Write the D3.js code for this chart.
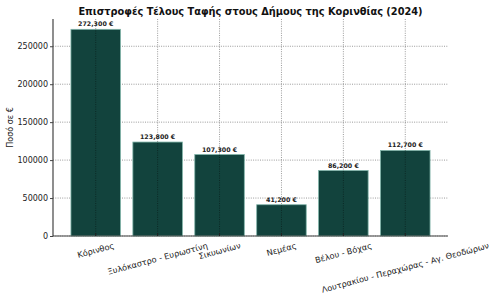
<!DOCTYPE html>
<html>
<head>
<meta charset="UTF-8">
<script src="https://d3js.org/d3.v7.min.js"></script>
<style>
  body { margin: 0; background: #fff; }
  svg { display: block; }
  text { font-family: "DejaVu Sans", sans-serif; }
</style>
</head>
<body>
<svg id="chart" width="500" height="300"></svg>
<script>
// data
const municipalities = ['Κόρινθος', 'Ξυλόκαστρο - Ευρωστίνη', 'Σικυωνίων', 'Νεμέας', 'Βέλου - Βόχας', 'Λουτρακίου - Περαχώρας - Αγ. Θεοδώρων']
const refunds = [272300, 123800, 107300, 41200, 86200, 112700]
const yTicks = [0, 50000, 100000, 150000, 200000, 250000]

const svg = d3.select('#chart')
const margin = { top: 19, right: 52, bottom: 64, left: 53 }
const width = 500, height = 300
const innerWidth = width - margin.left - margin.right
const innerHeight = height - margin.top - margin.bottom

// matplotlib-like x range: bars at 0..5, width 0.8, 5% margins
const xScale = d3.scaleLinear().domain([-0.69, 5.69]).range([0, innerWidth])
const yScale = d3.scaleLinear().domain([0, d3.max(refunds) * 1.05]).range([innerHeight, 0])

const g = svg.append('g').attr('transform', `translate(${margin.left},${margin.top})`)

// horizontal grid (behind bars)
g.append('g').selectAll('line')
  .data(yTicks)
  .enter().append('line')
  .attr('x1', 0).attr('x2', innerWidth)
  .attr('y1', d => yScale(d)).attr('y2', d => yScale(d))
  .attr('stroke', 'rgba(0,0,0,0.5)')
  .attr('stroke-width', 0.8)
  .attr('stroke-dasharray', '1,1.3')

// bars
g.selectAll('rect.bar')
  .data(refunds)
  .enter().append('rect')
  .attr('class', 'bar')
  .attr('x', (d, i) => xScale(i - 0.4))
  .attr('width', xScale(0.8) - xScale(0))
  .attr('y', d => yScale(d))
  .attr('height', d => innerHeight - yScale(d))
  .attr('fill', '#12433d')
  .attr('stroke', '#7fb3a8')
  .attr('stroke-width', 0.8)

// vertical grid (over bars)
g.append('g').selectAll('line')
  .data(municipalities)
  .enter().append('line')
  .attr('x1', (d, i) => xScale(i)).attr('x2', (d, i) => xScale(i))
  .attr('y1', 0).attr('y2', innerHeight)
  .attr('stroke', 'rgba(0,0,0,0.5)')
  .attr('stroke-width', 0.8)
  .attr('stroke-dasharray', '1,1.3')

// value labels
g.selectAll('text.val')
  .data(refunds)
  .enter().append('text')
  .attr('class', 'val')
  .attr('x', (d, i) => xScale(i))
  .attr('y', d => yScale(d) - 3)
  .attr('text-anchor', 'middle')
  .style('font-size', '6.3px')
  .style('font-weight', 'bold')
  .attr('fill', '#222')
  .text(d => d3.format(',')(d) + ' €')

// y axis
const yAxis = d3.axisLeft(yScale).tickValues(yTicks).tickFormat(d3.format('d')).tickSize(3).tickPadding(2)
const yG = g.append('g').call(yAxis)
yG.select('.domain').remove()
yG.selectAll('text').style('font-size', '8px').attr('fill', '#222')
yG.selectAll('line').attr('stroke', '#444')
g.append('line')
  .attr('x1', 0).attr('x2', 0).attr('y1', 0).attr('y2', innerHeight)
  .attr('stroke', '#444').attr('stroke-width', 1.2)

// x axis
g.append('line')
  .attr('x1', 0).attr('x2', innerWidth).attr('y1', innerHeight).attr('y2', innerHeight)
  .attr('stroke', '#444').attr('stroke-width', 1.2)
g.selectAll('line.xtick')
  .data(municipalities)
  .enter().append('line')
  .attr('class', 'xtick')
  .attr('x1', (d, i) => xScale(i)).attr('x2', (d, i) => xScale(i))
  .attr('y1', innerHeight).attr('y2', innerHeight - 3)
  .attr('stroke', '#222')

// rotated x labels, centred, top of rotated box below the axis
const angle = 15
const rad = angle * Math.PI / 180
const labels = g.selectAll('text.xlab')
  .data(municipalities)
  .enter().append('text')
  .attr('class', 'xlab')
  .attr('text-anchor', 'middle')
  .attr('dy', '0.35em')
  .style('font-size', '8.2px')
  .attr('fill', '#222')
  .text(d => d)
labels.each(function(d, i) {
  const w = this.getComputedTextLength()
  const h = 9
  const boxH = w * Math.sin(rad) + h * Math.cos(rad)
  const cx = xScale(i)
  const cy = innerHeight + 5 + boxH / 2
  d3.select(this).attr('transform', `translate(${cx},${cy}) rotate(${-angle})`)
})

// y label
g.append('text')
  .attr('transform', 'rotate(-90)')
  .attr('x', -innerHeight / 2)
  .attr('y', -40)
  .attr('text-anchor', 'middle')
  .style('font-size', '8px')
  .attr('fill', '#222')
  .text('Ποσό σε €')

// title
svg.append('text')
  .attr('x', margin.left + innerWidth / 2)
  .attr('y', 15)
  .attr('text-anchor', 'middle')
  .style('font-size', '9.8px')
  .style('font-weight', 'bold')
  .attr('fill', '#111')
  .text('Επιστροφές Τέλους Ταφής στους Δήμους της Κορινθίας (2024)')
</script>
</body>
</html>
